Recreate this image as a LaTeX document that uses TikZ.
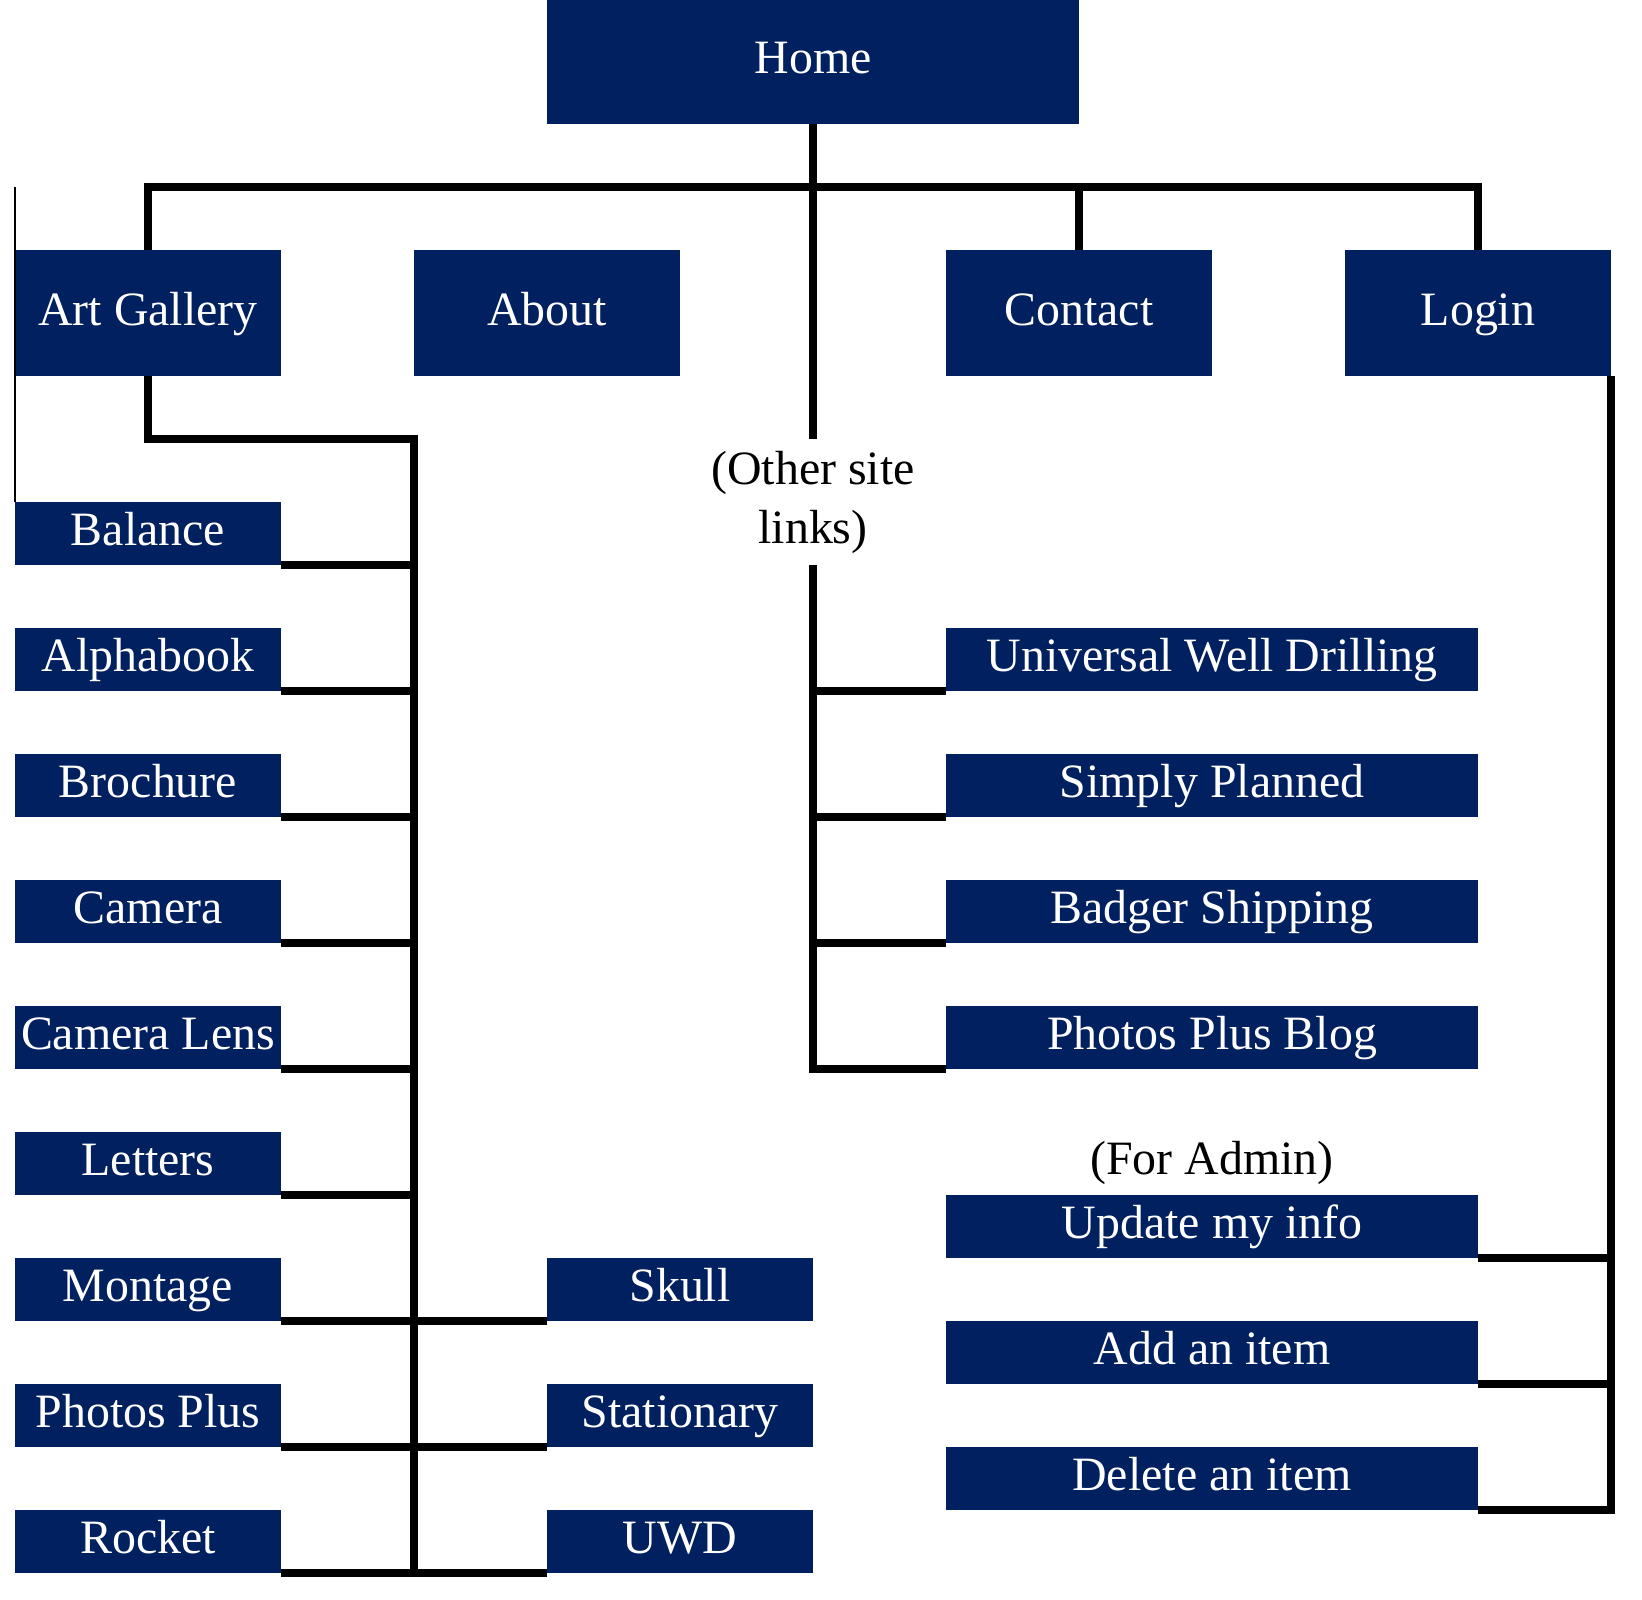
\documentclass[tikz,border=0pt]{standalone}
\usepackage{fontspec}
\setmainfont{Liberation Serif}
\definecolor{navy}{HTML}{002060}
\begin{document}
\begin{tikzpicture}[x=1.269cm,y=-0.601cm,
    page/.style={fill=navy,text=white,inner sep=0pt,outer sep=0pt,minimum width=2.538cm,minimum height=0.601cm,text height=9.5pt,text depth=3pt,font=\fontsize{13}{16}\selectfont},
    bigpage/.style={page,minimum height=1.202cm},
    widepage/.style={page,minimum width=5.076cm},
    note/.style={inner sep=0pt,outer sep=0pt,font=\fontsize{13}{16}\selectfont},
    link/.style={line width=2pt}]
    \useasboundingbox (-0.113,0.03) rectangle (12.233,25.42);
    \node[bigpage,minimum width=5.076cm] (home) at (6,1) {Home};
    \node[bigpage] (gallery) at (1,5) {Art Gallery};
    \node[bigpage] (about) at (4,5) {About};
    \node[bigpage] (contact) at (8,5) {Contact};
    \node[bigpage] (login) at (11,5) {Login};
    \foreach \name/\label [count=\i] in {balance/Balance,alphabook/Alphabook,brochure/Brochure,camera/Camera,lens/Camera Lens,letters/Letters,montage/Montage,photos/Photos Plus,rocket/Rocket}
    {
    \node[page] (\name) at (1,{6.5+2*\i}) {\label};
    }
    \foreach \name/\label [count=\i] in {skull/Skull,stationary/Stationary,uwd/UWD}
    {
    \node[page] (\name) at (5,{18.5+2*\i}) {\label};
    }
    \foreach \name/\label [count=\i] in {drilling/Universal Well Drilling,planned/Simply Planned,badger/Badger Shipping,blog/Photos Plus Blog}
    {
    \node[widepage] (\name) at (9,{8.5+2*\i}) {\label};
    }
    \foreach \name/\label [count=\i] in {update/Update my info,additem/Add an item,delitem/Delete an item}
    {
    \node[widepage] (\name) at (9,{17.5+2*\i}) {\label};
    }
    \node[note,align=center,minimum height=1.202cm] (others) at (6,8) {(Other site\\links)};
    \node[note] (admin) at (9,18.5) {(For Admin)};
    \coordinate (bar) at (6,3);
    \coordinate (trunk) at (3,7);
    \draw[link] (home.south) -- (others.north);
    \draw[link] (gallery.north) -- (gallery.north |- bar) -- (login.north |- bar) -- (login.north);
    \draw[link] (contact.north) -- (contact.north |- bar);
    \draw[thin] (gallery.north west |- bar) -- (balance.north west);
    \draw[link] (gallery.south) |- (trunk) -- (trunk |- rocket.south);
    \foreach \name in {balance,alphabook,brochure,camera,lens,letters,montage,photos,rocket}
    {
    \draw[link] (\name.south east) -- (\name.south east -| trunk);
    }
    \foreach \name in {skull,stationary,uwd}
    {
    \draw[link] (\name.south west) -- (\name.south west -| trunk);
    }
    \draw[link] (others.south) |- (blog.south west);
    \foreach \name in {drilling,planned,badger}
    {
    \draw[link] (\name.south west) -- (\name.south west -| others.south);
    }
    \draw[link] (login.south east) |- (delitem.south east);
    \foreach \name in {update,additem}
    {
    \draw[link] (\name.south east) -- (\name.south east -| login.east);
    }
\end{tikzpicture}
\end{document}
